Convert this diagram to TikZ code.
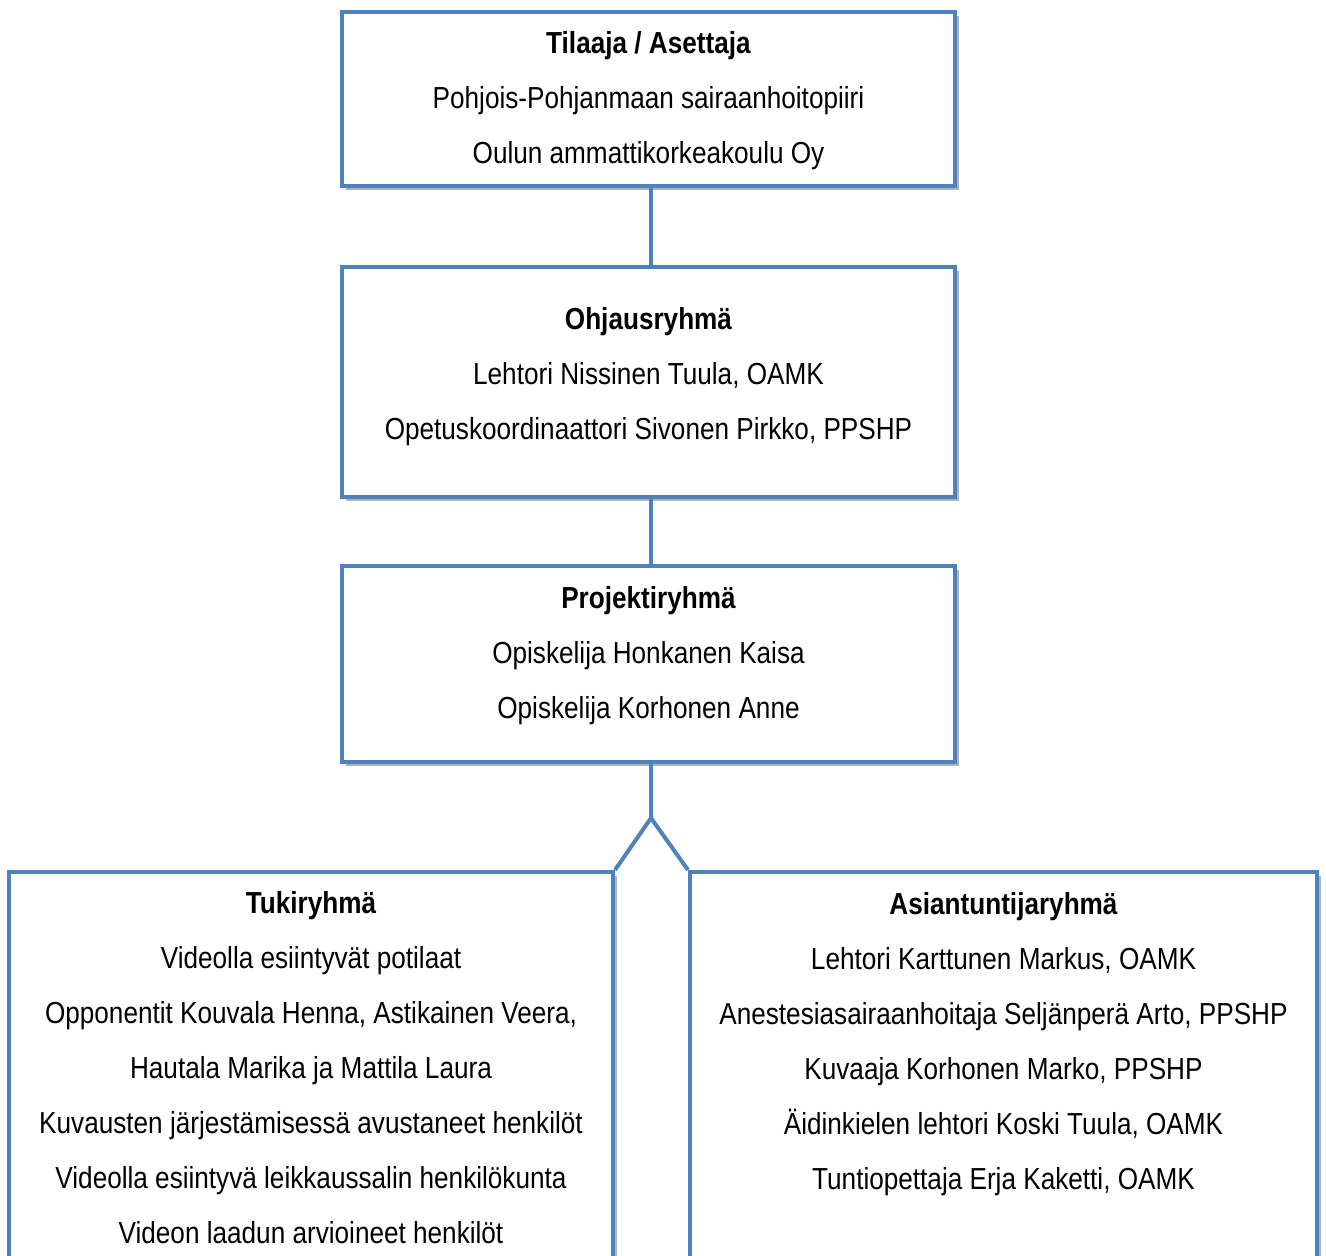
\documentclass[tikz,border=0pt]{standalone}
\usepackage{fontspec}
\setmainfont[FakeStretch=0.86]{Liberation Sans}
\usetikzlibrary{shadows}
\definecolor{ofblue}{HTML}{4F81BD}
\begin{document}
\begin{tikzpicture}[x=0.5pt,y=-0.5pt,
  box/.style={draw=ofblue, line width=2pt, fill=white, rectangle, inner sep=0pt,
    drop shadow={shadow xshift=1.8pt, shadow yshift=-1.8pt, opacity=0.3, fill=black}},
  conn/.style={draw=ofblue, line width=2pt},
  txt/.style={align=center, inner sep=0pt, font={\fontsize{15.2}{27.5}\selectfont}}]
\useasboundingbox (0,0) rectangle (1326,1256);
\begin{scope}
\clip (0,0) rectangle (1326,1256);
\coordinate (fork) at (651,818);
\node[box, minimum width=306.5pt, minimum height=87pt] (b1) at (648.5,99) {};
\node[box, minimum width=306.5pt, minimum height=115pt] (b2) at (648.5,382) {};
\node[box, minimum width=306.5pt, minimum height=98pt] (b3) at (648.5,664) {};
\node[box, minimum width=302pt, minimum height=193pt] (bl) at (311,1065) {};
\node[box, minimum width=313.5pt, minimum height=193pt] (br) at (1003.5,1065) {};
\draw[conn] (b1.south -| fork) -- (b2.north -| fork);
\draw[conn] (b2.south -| fork) -- (b3.north -| fork);
\draw[conn] (b3.south -| fork) -- (fork) -- (bl.north east);
\draw[conn] (fork) -- (br.north west);
\end{scope}
\node[txt, anchor=north] (t1) at (648.5,31) {\textbf{Tilaaja / Asettaja}\\Pohjois-Pohjanmaan sairaanhoitopiiri\\Oulun ammattikorkeakoulu Oy};
\node[txt, anchor=north] (t2) at (648.5,307) {\textbf{Ohjausryhmä}\\Lehtori Nissinen Tuula, OAMK\\Opetuskoordinaattori Sivonen Pirkko, PPSHP};
\node[txt, anchor=north] (t3) at (648.5,586) {\textbf{Projektiryhmä}\\Opiskelija Honkanen Kaisa\\Opiskelija Korhonen Anne};
\node[txt, anchor=north] (tl) at (311,891) {\textbf{Tukiryhmä}\\Videolla esiintyvät potilaat\\Opponentit Kouvala Henna, Astikainen Veera,\\Hautala Marika ja Mattila Laura\\Kuvausten järjestämisessä avustaneet henkilöt\\Videolla esiintyvä leikkaussalin henkilökunta\\Videon laadun arvioineet henkilöt};
\node[txt, anchor=north] (tr) at (1003.5,892) {\textbf{Asiantuntijaryhmä}\\Lehtori Karttunen Markus, OAMK\\Anestesiasairaanhoitaja Seljänperä Arto, PPSHP\\Kuvaaja Korhonen Marko, PPSHP\\Äidinkielen lehtori Koski Tuula, OAMK\\Tuntiopettaja Erja Kaketti, OAMK};
\end{tikzpicture}
\end{document}
